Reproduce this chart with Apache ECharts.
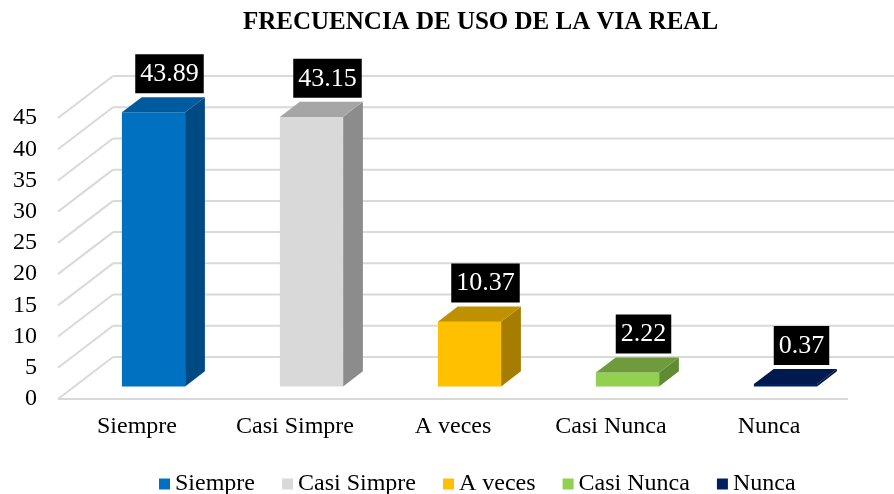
<!DOCTYPE html>
<html>
<head>
<meta charset="utf-8">
<script src="https://cdn.jsdelivr.net/npm/echarts@6/dist/echarts.min.js"></script>
<style>html,body{margin:0;padding:0;background:#fff;}#c{width:894px;height:494px;}</style>
</head>
<body>
<div id="c"></div>
<script>
const categories = ['Siempre', 'Casi Simpre', 'A veces', 'Casi Nunca', 'Nunca'];
const values = [43.89, 43.15, 10.37, 2.22, 0.37];
const yTicks = [0, 5, 10, 15, 20, 25, 30, 35, 40, 45];

const frontColors = ['#0070C0', '#D9D9D9', '#FFC000', '#92D050', '#002060'];
const topColors   = ['#005A9E', '#A6A6A6', '#BF9000', '#6E9C3C', '#001A50'];
const sideColors  = ['#004A83', '#8C8C8C', '#A67D00', '#5F8B33', '#00163F'];

const FONT = "'Liberation Serif', 'Times New Roman', serif";
const DX = 55, DY = -42;      // full depth of the 3D box
const F0 = 0.3;               // bar front position (fraction of depth)
const BD = 0.36;              // bar depth (fraction of depth)
const LABEL_DX = 16;

const chart = echarts.init(document.getElementById('c'), null, {renderer: 'canvas'});

function gridRender(params, api) {
  const v = api.value(0);
  const cs = params.coordSys;
  const y = api.coord([0, v])[1];
  const x0 = cs.x, x1 = cs.x + cs.width;
  const st = {stroke: '#D9D9D9', lineWidth: 2};
  const ch = [
    {type: 'line', shape: {x1: x0, y1: y, x2: x0 + DX, y2: y + DY}, style: st},
    {type: 'line', shape: {x1: x0 + DX, y1: y + DY, x2: x1 + DX, y2: y + DY}, style: st}
  ];
  if (v === 0) {
    ch.push({type: 'line', shape: {x1: x0, y1: y, x2: x1, y2: y}, style: st});
  }
  return {type: 'group', children: ch};
}

function barRender(params, api) {
  const i = api.value(0), v = api.value(1);
  const top = api.coord([i, v]);
  const base = api.coord([i, 0]);
  const band = api.size([1, 0])[0];
  const w = band * 0.4;
  const ox = DX * F0, oy = DY * F0;
  const dx = DX * BD, dy = DY * BD;
  const xl = top[0] + ox - w / 2, xr = xl + w;
  const yt = top[1] + oy, yb = base[1] + oy;
  const k = params.seriesIndex - 1;
  return {
    type: 'group',
    children: [
      {type: 'polygon', shape: {points: [[xr, yt], [xr, yb], [xr + dx, yb + dy], [xr + dx, yt + dy]]}, style: {fill: sideColors[k]}},
      {type: 'rect', shape: {x: xl, y: yt, width: w, height: yb - yt}, style: {fill: frontColors[k]}},
      {type: 'polygon', shape: {points: [[xl, yt], [xr, yt], [xr + dx, yt + dy], [xl + dx, yt + dy]]}, style: {fill: topColors[k]}},
      {type: 'text', style: {
        text: String(v), x: xl + w / 2 + LABEL_DX, y: yt + dy - 4,
        align: 'center', verticalAlign: 'bottom',
        fill: '#fff', font: '26px ' + FONT, lineHeight: 28,
        backgroundColor: '#000', padding: [6, 5, 5, 5]
      }}
    ]
  };
}

const series = [{
  type: 'custom',
  name: '_grid',
  renderItem: gridRender,
  data: yTicks.map(t => [t]),
  encode: {y: 0},
  silent: true,
  z: 1
}];
categories.forEach((c, i) => {
  series.push({
    type: 'custom',
    name: c,
    renderItem: barRender,
    data: [[i, values[i]]],
    encode: {x: 0, y: 1},
    itemStyle: {color: frontColors[i]},
    z: 2
  });
});

chart.setOption({
  animation: false,
  backgroundColor: '#fff',
  title: {
    text: 'FRECUENCIA DE USO DE LA VIA REAL',
    left: 243, top: 10, padding: 0,
    textStyle: {fontFamily: FONT, fontSize: 25, fontWeight: 'bold', color: '#000'}
  },
  legend: {
    data: categories,
    left: 154, top: 467,
    icon: 'rect', itemWidth: 11, itemHeight: 11, itemGap: 27,
    textStyle: {fontFamily: FONT, fontSize: 24, color: '#000'}
  },
  grid: {left: 58, right: 46, top: 118, bottom: 95, containLabel: false},
  xAxis: {
    type: 'category',
    data: categories,
    axisLine: {show: false},
    axisTick: {show: false},
    axisLabel: {fontFamily: FONT, fontSize: 24, color: '#000', margin: 16}
  },
  yAxis: {
    type: 'value', min: 0, max: 45, interval: 5,
    axisLine: {show: false}, axisTick: {show: false},
    splitLine: {show: false},
    axisLabel: {fontFamily: FONT, fontSize: 24, color: '#000', margin: 21}
  },
  series: series
});
</script>
</body>
</html>
